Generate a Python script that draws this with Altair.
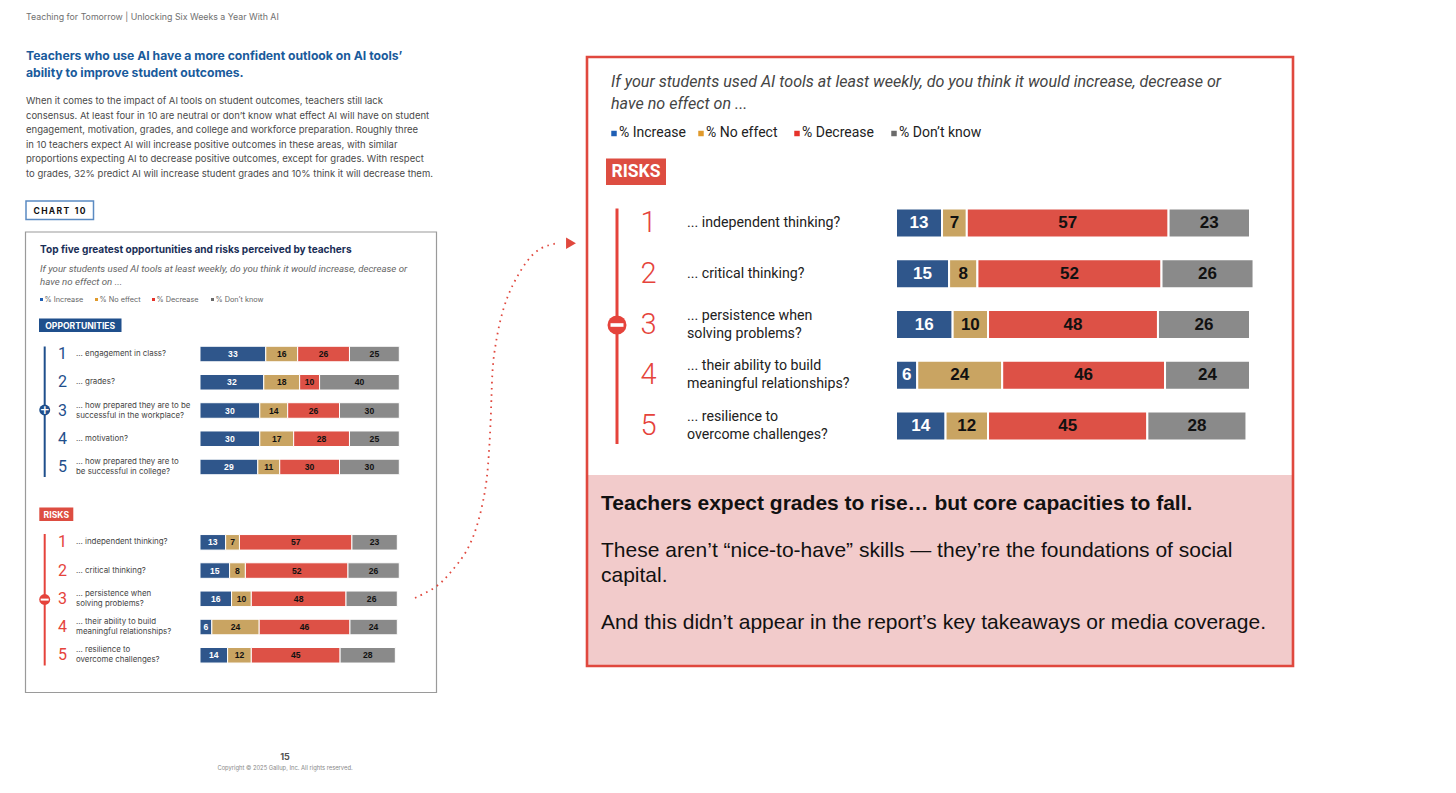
import altair as alt
import pandas as pd

# ---------------- data ----------------
segments = ["% Increase", "% No effect", "% Decrease", "% Don't know"]
seg_colors = ["#2f568b", "#c9a462", "#dd5146", "#8a8a8a"]
legend_colors = ["#1f5fb5", "#e09a2c", "#e6332a", "#6b6b6b"]

ranks = [1, 2, 3, 4, 5]

opp_labels = [
    "... engagement in class?",
    "... grades?",
    "... how prepared they are to be\nsuccessful in the workplace?",
    "... motivation?",
    "... how prepared they are to\nbe successful in college?",
]
opp_increase = [33, 32, 30, 30, 29]
opp_no_effect = [16, 18, 14, 17, 11]
opp_decrease = [26, 10, 26, 28, 30]
opp_dont_know = [25, 40, 30, 25, 30]

risk_labels = [
    "... independent thinking?",
    "... critical thinking?",
    "... persistence when\nsolving problems?",
    "... their ability to build\nmeaningful relationships?",
    "... resilience to\novercome challenges?",
]
risk_increase = [13, 15, 16, 6, 14]
risk_no_effect = [7, 8, 10, 24, 12]
risk_decrease = [57, 52, 48, 46, 45]
risk_dont_know = [23, 26, 26, 24, 28]

# decorative dotted connector (page pixels)
path_x = [415, 438, 450, 467, 478, 485, 488, 491, 492, 495, 500, 507, 515, 527, 540, 558]
path_y = [598, 587, 573, 553, 525, 493, 470, 420, 370, 347, 320, 297, 280, 260, 247, 243]

# ---------------- helpers ----------------
O = 8  # page margin


def px(v):
    return v - O


def long_table(labels, inc, noe, dec, dk):
    rows = []
    for i, r in enumerate(ranks):
        start = 0
        for seg, v in zip(segments, [inc[i], noe[i], dec[i], dk[i]]):
            rows.append(dict(rank=r, seg=seg, value=v, start=start, end=start + v))
            start += v
    return pd.DataFrame(rows)


def items_table(labels):
    return pd.DataFrame({"rank": ranks, "label": labels, "num": [str(r) for r in ranks],
                         "multi": ["\n" in l for l in labels]})


def text(t, x, y, size, color="#333", weight="normal", style="normal", font="Inter",
         align="left", baseline="middle", lh=None):
    mk = dict(align=align, baseline=baseline, fontSize=size, color=color, fontWeight=weight,
              fontStyle=style, font=font, lineBreak="\n")
    if lh:
        mk["lineHeight"] = lh
    return alt.Chart(pd.DataFrame({"t": [t]})).mark_text(**mk).encode(
        x=alt.value(px(x)), y=alt.value(px(y)), text="t:N")


def box(x0, y0, x1, y1, fill="white", stroke="white", sw=0, fill_opacity=1.0):
    return alt.Chart(pd.DataFrame({"a": [1]})).mark_rect(
        fill=fill, fillOpacity=fill_opacity, stroke=stroke, strokeWidth=sw).encode(
        x=alt.value(px(x0)), x2=alt.value(px(x1)), y=alt.value(px(y0)), y2=alt.value(px(y1)))


def vrule(x, y0, y1, color, sw):
    return alt.Chart(pd.DataFrame({"a": [1]})).mark_rule(color=color, strokeWidth=sw).encode(
        x=alt.value(px(x)), y=alt.value(px(y0)), y2=alt.value(px(y1)))


def dot(x, y, size, color, shape="circle"):
    return alt.Chart(pd.DataFrame({"a": [1]})).mark_point(
        shape=shape, filled=True, size=size, color=color, opacity=1).encode(
        x=alt.value(px(x)), y=alt.value(px(y)))


def bar_group(df, items, x0, x1, y0, y1, pad, bar_sw, val_size, num_x, num_size, num_color,
              lab_x, lab_size, lab_lh, lab_font, lab_color, val_font, num_font, num_weight):
    xs = alt.Scale(domain=[0, 100], range=[px(x0), px(x1)])
    ys = alt.Scale(domain=ranks, range=[px(y0), px(y1)], paddingInner=pad, paddingOuter=pad / 2)
    base = alt.Chart(df)
    bars = base.mark_bar(stroke="white", strokeWidth=bar_sw).encode(
        x=alt.X("start:Q", scale=xs, axis=None),
        x2="end:Q",
        y=alt.Y("rank:O", scale=ys, axis=None),
        color=alt.Color("seg:N", scale=alt.Scale(domain=segments, range=seg_colors), legend=None),
    )
    vals = base.transform_calculate(mid="(datum.start + datum.end) / 2").mark_text(
        fontSize=val_size, fontWeight="bold", font=val_font, baseline="middle", align="center").encode(
        x=alt.X("mid:Q", scale=xs, axis=None),
        y=alt.Y("rank:O", scale=ys, axis=None),
        text="value:Q",
        color=alt.condition(alt.datum.seg == "% Increase", alt.value("white"), alt.value("#111")),
    )
    nums = alt.Chart(items).mark_text(fontSize=num_size, color=num_color, font=num_font,
                                      fontWeight=num_weight, align="center", baseline="middle").encode(
        x=alt.value(px(num_x)), y=alt.Y("rank:O", scale=ys, axis=None), text="num:N")
    lab_kw = dict(fontSize=lab_size, color=lab_color, font=lab_font, align="left",
                  baseline="middle", lineBreak="\n", lineHeight=lab_lh)
    labs1 = alt.Chart(items).transform_filter("!datum.multi").mark_text(**lab_kw).encode(
        x=alt.value(px(lab_x)), y=alt.Y("rank:O", scale=ys, axis=None), text="label:N")
    labs2 = alt.Chart(items).transform_filter("datum.multi").mark_text(dy=-lab_lh / 2, **lab_kw).encode(
        x=alt.value(px(lab_x)), y=alt.Y("rank:O", scale=ys, axis=None), text="label:N")
    return alt.layer(bars, vals, nums, labs1, labs2)


opp_df = long_table(opp_labels, opp_increase, opp_no_effect, opp_decrease, opp_dont_know)
risk_df = long_table(risk_labels, risk_increase, risk_no_effect, risk_decrease, risk_dont_know)
opp_items = items_table(opp_labels)
risk_items = items_table(risk_labels)

BLUE = "#1f4f8c"
RED = "#e5433b"
layers = []

# ---------------- left page ----------------
layers.append(text("Teaching for Tomorrow  |  Unlocking Six Weeks a Year With AI", 26, 17, 8.8, color="#707070"))
layers.append(text("Teachers who use AI have a more confident outlook on AI tools’\nability to improve student outcomes.",
                   26, 55.5, 12.2, color="#1a5b9c", weight="bold", lh=17))
para = ("When it comes to the impact of AI tools on student outcomes, teachers still lack\n"
        "consensus. At least four in 10 are neutral or don’t know what effect AI will have on student\n"
        "engagement, motivation, grades, and college and workforce preparation. Roughly three\n"
        "in 10 teachers expect AI will increase positive outcomes in these areas, with similar\n"
        "proportions expecting AI to decrease positive outcomes, except for grades. With respect\n"
        "to grades, 32% predict AI will increase student grades and 10% think it will decrease them.")
layers.append(text(para, 26, 101, 9.5, color="#4a4a4a", lh=14.6))

# CHART 10 tag
layers.append(box(26, 201, 93.5, 219.5, fill="white", stroke="#5b8bc2", sw=1.5))
layers.append(text("C\u2009H\u2009A\u2009R\u2009T\u2002\u20091\u20090", 59.5, 210.5, 8.5, color="#111",
                   weight="bold", align="center"))

# chart box
layers.append(box(25.5, 232, 436.5, 692.5, fill="white", stroke="#9a9a9a", sw=1.2))
layers.append(text("Top five greatest opportunities and risks perceived by teachers", 40, 250, 10.1,
                   color="#1b2f57", weight="bold"))
layers.append(text("If your students used AI tools at least weekly, do you think it would increase, decrease or\nhave no effect on ...",
                   40, 269, 9.7, color="#666", style="italic", font="Roboto", lh=13.3))
# small legend
small_leg = [(40, "% Increase"), (95, "% No effect"), (152, "% Decrease"), (211, "% Don’t know")]
for (lx, lt), c in zip(small_leg, legend_colors):
    layers.append(dot(lx + 1.5, 299.5, 9, c, shape="square"))
    layers.append(text(lt, lx + 4.5, 299.5, 7.3, color="#666"))

# OPPORTUNITIES tag
layers.append(box(39, 318.5, 121.5, 332, fill="#1f4f8c"))
layers.append(text("OPPORTUNITIES", 80.2, 325.5, 8.6, color="white", weight="bold", align="center"))
layers.append(vrule(44.7, 346.5, 477, BLUE, 2))
layers.append(dot(44.7, 410, 120, BLUE))
layers.append(text("+", 44.7, 409.5, 12, color="white", weight="bold", align="center", font="DejaVu Sans"))
layers.append(bar_group(opp_df, opp_items, 200, 399.3, 339.9, 481.1, 0.45, 1, 8.6,
                        62.5, 16, BLUE, 76, 7.9, 10, "Inter", "#444", "Liberation Sans", "Roboto", "normal"))

# RISKS tag (small)
layers.append(box(39.3, 507.5, 73.3, 521, fill="#dd4d41"))
layers.append(text("RISKS", 56.3, 514.5, 8.6, color="white", weight="bold", align="center"))
layers.append(vrule(44.7, 534, 665.5, RED, 2))
layers.append(dot(44.7, 599.5, 120, RED))
layers.append(box(40.7, 598.6, 48.7, 600.6, fill="white"))
layers.append(bar_group(risk_df, risk_items, 200, 397.3, 528.2, 669.4, 0.45, 1, 8.6,
                        62.5, 16, RED, 76, 7.9, 10, "Inter", "#444", "Liberation Sans", "Roboto", "normal"))

# footer
layers.append(text("15", 285, 757, 9, color="#555", weight="bold", align="center"))
layers.append(text("Copyright © 2025 Gallup, Inc. All rights reserved.", 285, 767.5, 5.8, color="#888", align="center"))

# dotted connector
path_df = pd.DataFrame({"x": [px(v) for v in path_x], "y": [px(v) for v in path_y], "o": list(range(len(path_x)))})
layers.append(alt.Chart(path_df).mark_line(color="#e0483e", strokeWidth=1.8, strokeDash=[1.6, 4.6],
                                           interpolate="basis").encode(
    x=alt.X("x:Q", scale=None), y=alt.Y("y:Q", scale=None), order="o:Q"))
layers.append(dot(571, 243.3, 130, "#e0483e", shape="triangle-right"))

# ---------------- right panel ----------------
layers.append(box(587, 57, 1293, 666, fill="white"))
layers.append(box(587, 475, 1293, 666, fill="#f2cbcb"))
layers.append(box(587, 57, 1293, 666, fill="white", fill_opacity=0, stroke="#e0483e", sw=2.6))
layers.append(text("If your students used AI tools at least weekly, do you think it would increase, decrease or\nhave no effect on ...",
                   611, 82, 16.1, color="#444", style="italic", font="Roboto", lh=22))
big_leg = [(611, "% Increase"), (698, "% No effect"), (794, "% Decrease"), (891, "% Don’t know")]
for (lx, lt), c in zip(big_leg, legend_colors):
    layers.append(dot(lx + 3, 133.5, 30, c, shape="square"))
    layers.append(text(lt, lx + 8, 133, 14, color="#222", font="Roboto"))
layers.append(box(606, 158.5, 666, 185, fill="#dd4d41"))
layers.append(text("RISKS", 636, 172, 17.5, color="white", weight="bold", align="center", font="Roboto"))
layers.append(vrule(617, 208.5, 444, RED, 3))
layers.append(dot(617, 325, 360, RED))
layers.append(box(610.5, 323.2, 623.5, 326.8, fill="white"))
layers.append(bar_group(risk_df, risk_items, 896, 1250, 197.6, 451.4, 0.43, 2, 17,
                        648.5, 29, RED, 687, 14.2, 18, "Roboto", "#222", "Liberation Sans", "Roboto", 300))

# takeaway text
layers.append(text("Teachers expect grades to rise… but core capacities to fall.", 601, 503.5, 21,
                   color="#111", weight="bold", font="Liberation Sans"))
layers.append(text("These aren’t “nice-to-have” skills — they’re the foundations of social\ncapital.",
                   601, 551, 21, color="#111", font="Liberation Sans", lh=25))
layers.append(text("And this didn’t appear in the report’s key takeaways or media coverage.", 601, 623, 21,
                   color="#111", font="Liberation Sans"))

chart = alt.layer(*layers).resolve_scale(
    x="independent", y="independent"
).properties(
    width=1440, height=777, padding=0, autosize=alt.AutoSizeParams(type="none")
).configure_view(stroke=None)

chart.save("out.html", embed_options={"renderer": "svg", "actions": False})
